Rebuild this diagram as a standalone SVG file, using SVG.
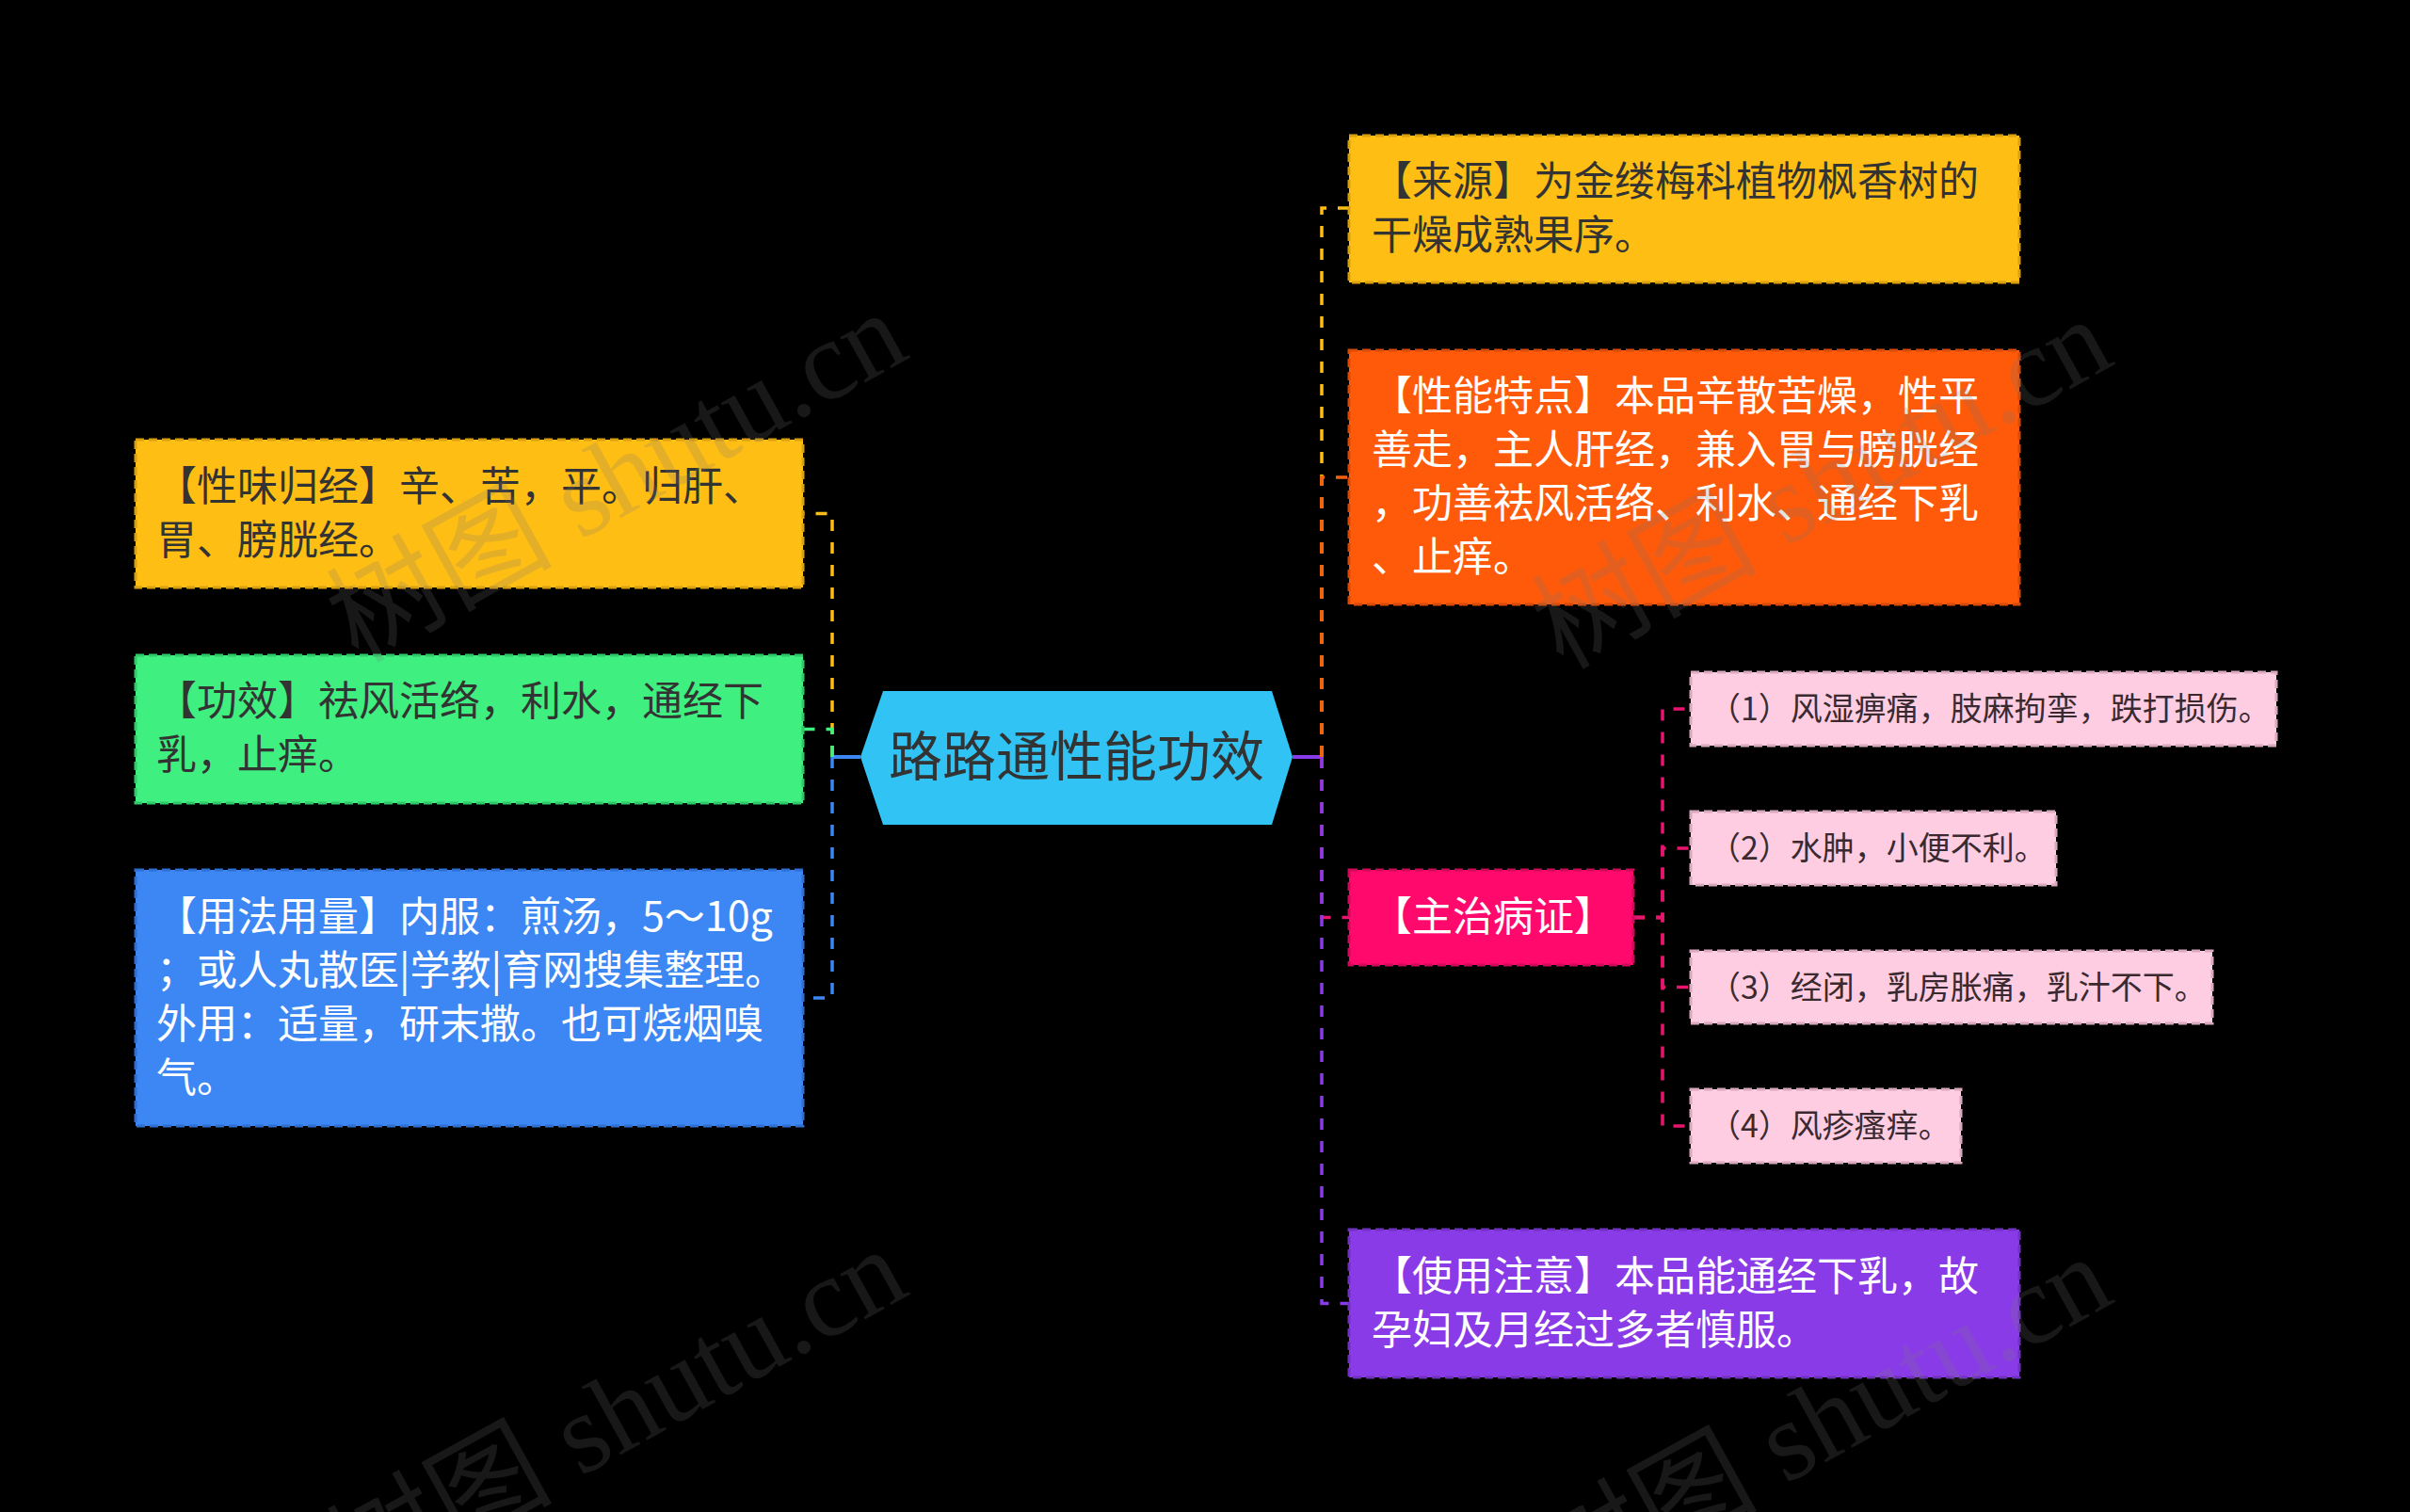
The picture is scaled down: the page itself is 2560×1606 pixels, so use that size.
<svg xmlns="http://www.w3.org/2000/svg" width="2560" height="1606" viewBox="0 0 2560 1606">
<style>
  .t { font-family: "Noto Sans CJK SC", "Noto Sans", sans-serif; font-size: 43px; }
  .ts { font-family: "Noto Sans CJK SC", "Noto Sans", sans-serif; font-size: 34px; fill: #3a2a30; }
  .dark { fill: #333333; }
  .light { fill: #ffffff; }
  .box { stroke-width: 3; stroke-dasharray: 9 5; }
  .conn { fill: none; stroke-width: 3.5; stroke-dasharray: 12 12; }
  .wm { font-family: "Liberation Serif", "Noto Sans CJK SC", serif; font-size: 120px; fill: #777777; opacity: 0.2; }
</style>
<rect x="0" y="0" width="2560" height="1606" fill="#000000"/>

<g id="connectors">
  <path d="M914 804 H884" stroke="#3d87f5" stroke-width="4" fill="none"/>
  <path d="M1373 804 H1404" stroke="#8a3be8" stroke-width="4" fill="none"/>
  <path class="conn" stroke="#ffbe14" d="M884 804 V545.5 H853"/>
  <path class="conn" stroke="#3fef80" d="M884 804 V774.5 H853"/>
  <path class="conn" stroke="#3d87f5" d="M884 804 V1060 H853"/>
  <path class="conn" stroke="#ffbe14" d="M1404 804 V221 H1433"/>
  <path class="conn" stroke="#f5600f" d="M1404 804 V507 H1433"/>
  <path class="conn" stroke="#e8156e" d="M1404 804 V974.5 H1433"/>
  <path class="conn" stroke="#8a3be8" d="M1404 804 V1384.5 H1433"/>
  <path class="conn" stroke="#e8156e" stroke-width="3" d="M1735 974.5 H1766 V753 H1796"/>
  <path class="conn" stroke="#e8156e" stroke-width="3" d="M1735 974.5 H1766 V901 H1796"/>
  <path class="conn" stroke="#e8156e" stroke-width="3" d="M1735 974.5 H1766 V1048.5 H1796"/>
  <path class="conn" stroke="#e8156e" stroke-width="3" d="M1735 974.5 H1766 V1196 H1796"/>
</g>

<g id="root">
  <polygon points="914,804 938,734 1351,734 1373,804 1351,876 938,876" fill="#30c3f3"/>
  <text class="dark" x="1143.5" y="824" text-anchor="middle" style="font-family: 'Noto Sans CJK SC', sans-serif; font-size: 57px;">路路通性能功效</text>
</g>

<g id="node-xingwei">
  <rect class="box" x="144" y="467" width="709" height="157" fill="#ffbe14" stroke="#d9a010"/>
  <text class="t dark" x="166" y="532">【性味归经】辛、苦，平。归肝、</text>
  <text class="t dark" x="166" y="589">胃、膀胱经。</text>
</g>

<g id="node-gongxiao">
  <rect class="box" x="144" y="696" width="709" height="157" fill="#3fef80" stroke="#30c868"/>
  <text class="t dark" x="166" y="760">【功效】祛风活络，利水，通经下</text>
  <text class="t dark" x="166" y="817">乳，止痒。</text>
</g>

<g id="node-yongfa">
  <rect class="box" x="144" y="924" width="709" height="272" fill="#3d87f5" stroke="#2f6fd0"/>
  <text class="t light" x="166" y="989">【用法用量】内服：煎汤，5～10g</text>
  <text class="t light" x="166" y="1046">；或人丸散医|学教|育网搜集整理。</text>
  <text class="t light" x="166" y="1103">外用：适量，研末撒。也可烧烟嗅</text>
  <text class="t light" x="166" y="1160">气。</text>
</g>

<g id="node-laiyuan">
  <rect class="box" x="1433" y="144" width="712" height="156" fill="#ffbe14" stroke="#d9a010"/>
  <text class="t dark" x="1457" y="208">【来源】为金缕梅科植物枫香树的</text>
  <text class="t dark" x="1457" y="265">干燥成熟果序。</text>
</g>

<g id="node-xingneng">
  <rect class="box" x="1433" y="372" width="712" height="270" fill="#ff5a0a" stroke="#d84a08"/>
  <text class="t light" x="1457" y="436">【性能特点】本品辛散苦燥，性平</text>
  <text class="t light" x="1457" y="493">善走，主人肝经，兼入胃与膀胱经</text>
  <text class="t light" x="1457" y="550">，功善祛风活络、利水、通经下乳</text>
  <text class="t light" x="1457" y="607">、止痒。</text>
</g>

<g id="node-zhuzhi">
  <rect class="box" x="1433" y="924" width="302" height="101" fill="#ff0a6c" stroke="#d00a5a"/>
  <text class="t light" x="1457" y="989">【主治病证】</text>
</g>

<g id="node-sub1">
  <rect class="box" x="1796" y="714" width="622" height="78" fill="#ffcde2" stroke="#d8a8bc"/>
  <text class="ts" x="1815" y="765">（1）风湿痹痛，肢麻拘挛，跌打损伤。</text>
</g>
<g id="node-sub2">
  <rect class="box" x="1796" y="862" width="388" height="78" fill="#ffcde2" stroke="#d8a8bc"/>
  <text class="ts" x="1815" y="913">（2）水肿，小便不利。</text>
</g>
<g id="node-sub3">
  <rect class="box" x="1796" y="1010" width="554" height="77" fill="#ffcde2" stroke="#d8a8bc"/>
  <text class="ts" x="1815" y="1061">（3）经闭，乳房胀痛，乳汁不下。</text>
</g>
<g id="node-sub4">
  <rect class="box" x="1796" y="1157" width="287" height="78" fill="#ffcde2" stroke="#d8a8bc"/>
  <text class="ts" x="1815" y="1208">（4）风疹瘙痒。</text>
</g>

<g id="node-zhuyi">
  <rect class="box" x="1433" y="1306" width="712" height="157" fill="#8a3be8" stroke="#7030c0"/>
  <text class="t light" x="1457" y="1371">【使用注意】本品能通经下乳，故</text>
  <text class="t light" x="1457" y="1428">孕妇及月经过多者慎服。</text>
</g>

<g id="watermarks">
  <text class="wm" transform="translate(380 705) rotate(-29)">树图 shutu.cn</text>
  <text class="wm" transform="translate(1660 712) rotate(-29)">树图 shutu.cn</text>
  <text class="wm" transform="translate(380 1700) rotate(-29)">树图 shutu.cn</text>
  <text class="wm" transform="translate(1660 1708) rotate(-29)">树图 shutu.cn</text>
</g>
</svg>
